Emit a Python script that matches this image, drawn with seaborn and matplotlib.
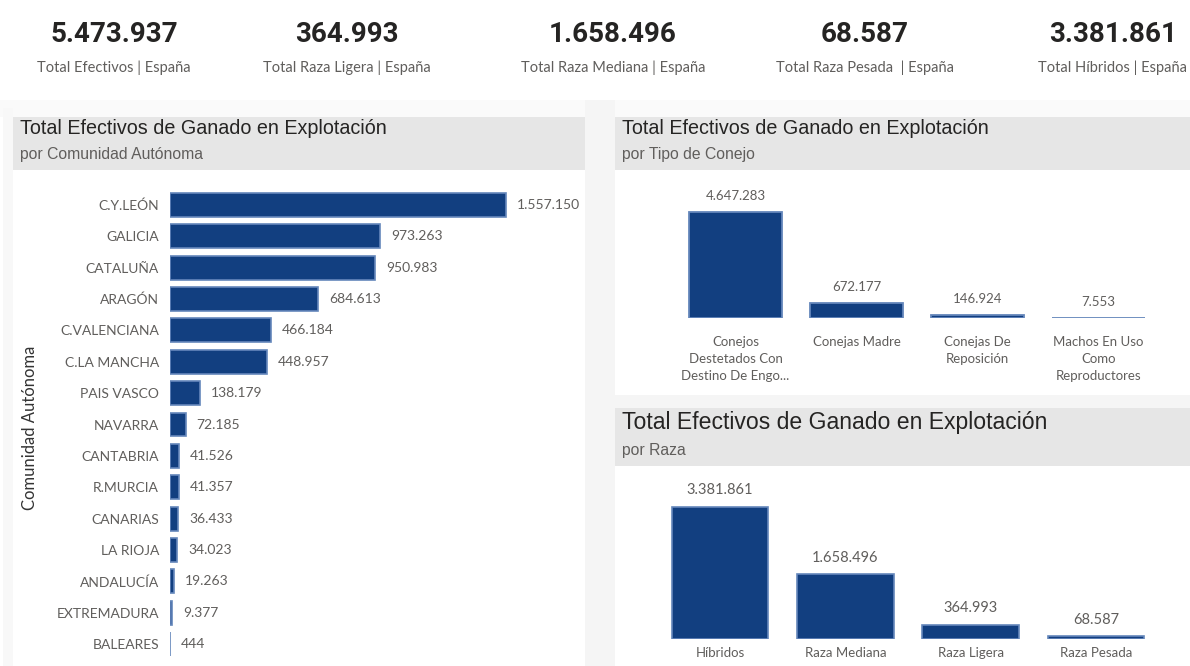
import matplotlib
matplotlib.use("Agg")
import matplotlib.pyplot as plt
import seaborn as sns
import pandas as pd
from matplotlib.patches import Rectangle

# ---------------- data ----------------
kpi_values = [5473937, 364993, 1658496, 68587, 3381861]
kpi_labels = ["Total Efectivos | España", "Total Raza Ligera | España",
              "Total Raza Mediana | España", "Total Raza Pesada  | España",
              "Total Híbridos | España"]

comunidades = ["C.Y.LEÓN", "GALICIA", "CATALUÑA", "ARAGÓN", "C.VALENCIANA",
               "C.LA MANCHA", "PAIS VASCO", "NAVARRA", "CANTABRIA", "R.MURCIA",
               "CANARIAS", "LA RIOJA", "ANDALUCÍA", "EXTREMADURA", "BALEARES"]
efectivos_ccaa = [1557150, 973263, 950983, 684613, 466184, 448957, 138179,
                  72185, 41526, 41357, 36433, 34023, 19263, 9377, 444]

tipos_conejo = ["Conejos\nDestetados Con\nDestino De Engo...", "Conejas Madre",
                "Conejas De\nReposición", "Machos En Uso\nComo\nReproductores"]
efectivos_tipo = [4647283, 672177, 146924, 7553]

razas = ["Híbridos", "Raza Mediana", "Raza Ligera", "Raza Pesada"]
efectivos_raza = [3381861, 1658496, 364993, 68587]

# ---------------- style ----------------
sns.set_theme(style="white")
plt.rcParams['font.family'] = ['Lato', 'DejaVu Sans']

W, H = 1190, 666
BLUE = "#123f80"
EDGE = "#6587bb"
GRAY = "#605e5c"
HEAD = "#e6e6e6"
TITLEF = ['Liberation Sans', 'DejaVu Sans']


def fmt(v):
    return f"{v:,}".replace(",", ".")


def px_axes(fig, l, t, r, b):
    return fig.add_axes([l / W, 1 - b / H, (r - l) / W, (b - t) / H])


fig = plt.figure(figsize=(W / 100, H / 100), dpi=100)
fig.patch.set_facecolor("white")


def rect(x0, y0, x1, y1, color, z=0):
    fig.patches.append(Rectangle((x0 / W, 1 - y1 / H), (x1 - x0) / W, (y1 - y0) / H,
                                 transform=fig.transFigure, facecolor=color,
                                 edgecolor="none", zorder=z))


def ftext(x, y, s, **kw):
    fig.text(x / W, 1 - y / H, s, **kw)


# page background / shadows
rect(0, 100, W, 117, "#fafafa", 0)
rect(585, 100, 615, H, "#f5f5f5", 0)
rect(585, 395, W, 408, "#f5f5f5", 0)
rect(3, 108, 13, H, "#f8f8f8", 0)

# headers
rect(13, 117, 585, 170, HEAD, 1)
rect(615, 117, W, 170, HEAD, 1)
rect(615, 408, W, 466, HEAD, 1)

ftext(20, 128, "Total Efectivos de Ganado en Explotación", family=TITLEF,
      fontsize=14.2, color="#252423", va="center", ha="left")
ftext(20, 155, "por Comunidad Autónoma", family=TITLEF, fontsize=11.3,
      color=GRAY, va="center", ha="left")
ftext(622, 128, "Total Efectivos de Ganado en Explotación", family=TITLEF,
      fontsize=14.2, color="#252423", va="center", ha="left")
ftext(622, 155, "por Tipo de Conejo", family=TITLEF, fontsize=11.3,
      color=GRAY, va="center", ha="left")
ftext(622, 423, "Total Efectivos de Ganado en Explotación", family=TITLEF,
      fontsize=16.6, color="#252423", va="center", ha="left")
ftext(622, 450, "por Raza", family=TITLEF, fontsize=11.3,
      color=GRAY, va="center", ha="left")

# KPI cards
kpi_x = [114, 347, 613, 865, 1113]
for x, v, lab in zip(kpi_x, kpi_values, kpi_labels):
    ftext(x, 35, fmt(v), family=['Roboto', 'DejaVu Sans'], fontweight='bold',
          fontsize=20, color="#252423", ha="center", va="center")
    ftext(x, 68, lab, fontsize=10.5, color=GRAY, ha="center", va="center")

# ---------------- left chart ----------------
ax1 = px_axes(fig, 170, 189.3, 585, 659.7)
df1 = pd.DataFrame({"ccaa": comunidades, "valor": efectivos_ccaa})
sns.barplot(data=df1, x="valor", y="ccaa", orient="h", color=BLUE, saturation=1,
            width=0.765, edgecolor=EDGE, linewidth=1.2, ax=ax1)
ax1.set_xlim(0, 1557150 * 415 / 336)
ax1.set_ylim(14.5, -0.5)
ax1.bar_label(ax1.containers[0], labels=[fmt(v) for v in efectivos_ccaa],
              padding=8, color=GRAY, fontsize=10)
ax1.set_xlabel("")
ax1.set_ylabel("")
ax1.set_xticks([])
ax1.tick_params(axis="y", length=0, pad=8, labelsize=10, labelcolor=GRAY)
sns.despine(ax=ax1, left=True, bottom=True)
ftext(30, 428, "Comunidad Autónoma", rotation=90, fontsize=12, color="#333333",
      ha="center", va="center")

# ---------------- top right chart ----------------
ax2 = px_axes(fig, 675, 180, 1159, 318)
df2 = pd.DataFrame({"tipo": tipos_conejo, "valor": efectivos_tipo})
sns.barplot(data=df2, x="tipo", y="valor", color=BLUE, saturation=1,
            width=0.77, edgecolor=EDGE, linewidth=1.3, ax=ax2)
ax2.set_ylim(0, 4647283 * 138 / 106)
ax2.set_xlim(-0.5, 3.5)
ax2.bar_label(ax2.containers[0], labels=[fmt(v) for v in efectivos_tipo],
              padding=7, color=GRAY, fontsize=9.5)
ax2.set_xlabel("")
ax2.set_ylabel("")
ax2.set_yticks([])
ax2.tick_params(axis="x", length=0, pad=13, labelsize=9.5, labelcolor=GRAY)
for t in ax2.get_xticklabels():
    t.set_linespacing(1.5)
    t.set_va("top")
sns.despine(ax=ax2, left=True, bottom=True)

# ---------------- bottom right chart ----------------
ax3 = px_axes(fig, 657.4, 475, 1158.6, 639)
df3 = pd.DataFrame({"raza": razas, "valor": efectivos_raza})
sns.barplot(data=df3, x="raza", y="valor", color=BLUE, saturation=1,
            width=0.77, edgecolor=EDGE, linewidth=1.2, ax=ax3)
ax3.set_ylim(0, 3381861 * 164 / 132)
ax3.set_xlim(-0.5, 3.5)
ax3.bar_label(ax3.containers[0], labels=[fmt(v) for v in efectivos_raza],
              padding=7, color=GRAY, fontsize=10.5)
ax3.set_xlabel("")
ax3.set_ylabel("")
ax3.set_yticks([])
ax3.tick_params(axis="x", length=0, pad=6, labelsize=9.5, labelcolor=GRAY)
sns.despine(ax=ax3, left=True, bottom=True)

for ax in (ax1, ax2, ax3):
    ax.set_facecolor("none")

fig.savefig("out.png", dpi=100, facecolor=fig.get_facecolor())
